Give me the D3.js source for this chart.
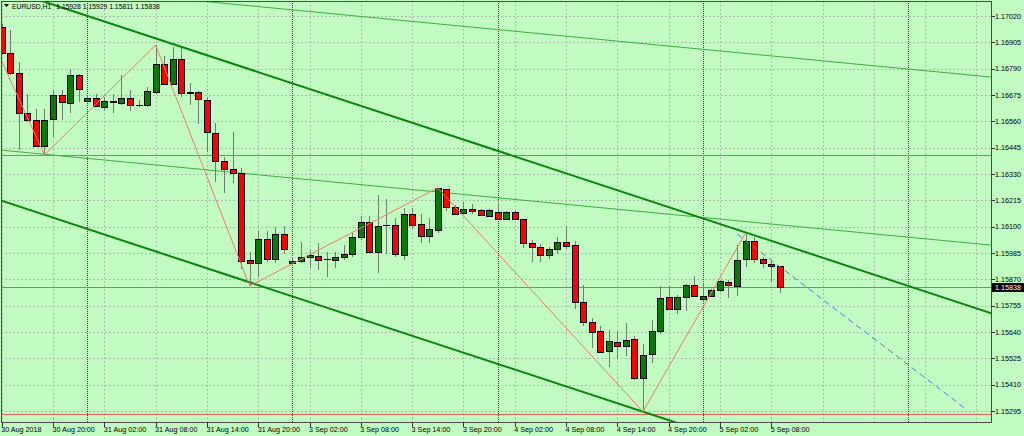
<!DOCTYPE html>
<html><head><meta charset="utf-8">
<script src="https://cdn.jsdelivr.net/npm/d3@7"></script>
<style>body{margin:0;background:#c1fbc1;} svg{display:block}</style>
</head><body>
<svg id="c" width="1024" height="436"></svg>
<script>
// ---------- data ----------
const symbol = "EURUSD,H1";
const headerValues = ["1.15928", "1.15929", "1.15811", "1.15838"];
const opens = [1.16972,1.16858,1.16771,1.16596,1.16566,1.16452,1.16570,1.16675,1.16640,1.16762,
1.16649,1.16662,1.16623,1.16649,1.16640,1.16662,1.16631,1.16631,1.16688,1.16810,
1.16723,1.16832,1.16686,1.16688,1.16653,1.16509,1.16387,1.16352,1.16334,1.15954,
1.15941,1.16046,1.15959,1.16068,1.15941,1.15950,1.15968,1.15972,1.15959,1.15954,
1.15968,1.15981,1.16055,1.16120,1.15989,1.16107,1.16107,1.15976,1.16155,1.16112,
1.16059,1.16085,1.16264,1.16186,1.16160,1.16177,1.16173,1.16148,1.16164,1.16133,
1.16164,1.16133,1.16029,1.16011,1.15976,1.16002,1.16033,1.16020,1.15771,1.15684,
1.15644,1.15557,1.15596,1.15579,1.15609,1.15439,1.15544,1.15644,1.15793,1.15740,
1.15793,1.15845,1.15785,1.15797,1.15820,1.15858,1.15842,1.15959,1.16037,1.15959,
1.15937,1.15928];
const highs = [1.16985,1.16959,1.16819,1.16679,1.16614,1.16614,1.16697,1.16697,1.16789,1.16767,
1.16675,1.16679,1.16666,1.16679,1.16762,1.16697,1.16653,1.16710,1.16893,1.16845,
1.16885,1.16880,1.16727,1.16692,1.16666,1.16553,1.16404,1.16513,1.16356,1.15989,
1.16081,1.16081,1.16099,1.16103,1.15968,1.16033,1.15998,1.16029,1.15989,1.15989,
1.16020,1.16072,1.16147,1.16147,1.16238,1.16221,1.16138,1.16182,1.16182,1.16155,
1.16138,1.16269,1.16266,1.16195,1.16208,1.16199,1.16177,1.16177,1.16203,1.16168,
1.16168,1.16135,1.16042,1.16024,1.16011,1.16055,1.16103,1.16037,1.15845,1.15701,
1.15666,1.15649,1.15644,1.15679,1.15623,1.15588,1.15692,1.15841,1.15841,1.15802,
1.15850,1.15885,1.15854,1.15828,1.15867,1.15867,1.16020,1.16072,1.16055,1.15968,
1.15954,1.15929];
const lows = [1.16850,1.16762,1.16435,1.16557,1.16448,1.16413,1.16492,1.16566,1.16596,1.16644,
1.16644,1.16625,1.16605,1.16596,1.16631,1.16605,1.16623,1.16623,1.16679,1.16719,
1.16719,1.16666,1.16631,1.16548,1.16426,1.16295,1.16247,1.16291,1.15915,1.15841,
1.15880,1.15946,1.15941,1.15981,1.15937,1.15941,1.15920,1.15911,1.15880,1.15920,
1.15954,1.15968,1.16042,1.15987,1.15898,1.15981,1.15968,1.15954,1.16090,1.16029,
1.16029,1.16072,1.16168,1.16151,1.16155,1.16155,1.16147,1.16142,1.16131,1.16131,
1.16129,1.16007,1.15946,1.15946,1.15959,1.15981,1.16002,1.15740,1.15666,1.15570,
1.15550,1.15487,1.15522,1.15535,1.15430,1.15292,1.15505,1.15631,1.15736,1.15719,
1.15732,1.15793,1.15771,1.15793,1.15815,1.15789,1.15797,1.15924,1.15941,1.15920,
1.15858,1.15811];
const closes = [1.16858,1.16771,1.16596,1.16566,1.16452,1.16566,1.16675,1.16644,1.16762,1.16701,
1.16662,1.16627,1.16649,1.16644,1.16662,1.16631,1.16629,1.16692,1.16810,1.16723,
1.16832,1.16684,1.16683,1.16658,1.16513,1.16387,1.16352,1.16334,1.15950,1.15941,
1.16046,1.15959,1.16068,1.16002,1.15950,1.15968,1.15976,1.15954,1.15957,1.15968,
1.15981,1.16055,1.16120,1.15989,1.16103,1.16105,1.15981,1.16155,1.16107,1.16059,
1.16090,1.16268,1.16186,1.16155,1.16177,1.16168,1.16151,1.16173,1.16133,1.16164,
1.16133,1.16029,1.16011,1.15976,1.16002,1.16033,1.16016,1.15771,1.15684,1.15640,
1.15553,1.15601,1.15579,1.15605,1.15439,1.15540,1.15644,1.15789,1.15740,1.15793,
1.15845,1.15797,1.15796,1.15823,1.15861,1.15845,1.15954,1.16037,1.15959,1.15941,
1.15928,1.15838];
const priceTicks = [1.17020,1.16905,1.16790,1.16675,1.16560,1.16445,1.16330,1.16215,
1.16100,1.15985,1.15870,1.15755,1.15640,1.15525,1.15410,1.15295];
const timeTickBars = [0,6,12,18,24,30,36,42,48,54,60,66,72,78,84,90];
const timeTickLabels = ["30 Aug 2018","30 Aug 20:00","31 Aug 02:00","31 Aug 08:00","31 Aug 14:00",
"31 Aug 20:00","3 Sep 02:00","3 Sep 08:00","3 Sep 14:00","3 Sep 20:00","4 Sep 02:00",
"4 Sep 08:00","4 Sep 14:00","4 Sep 20:00","5 Sep 02:00","5 Sep 08:00"];
const futureGridBars = [96,102,108,114];
const daySeparatorBars = [10,34,58,82,106];
const zigzagBars   = [-2, 5, 18, 29, 51, 75, 87];
const zigzagPrices = [1.16988,1.16413,1.16893,1.15841,1.16269,1.15292,1.16072];
const horizontalLevels = [1.16413, 1.15838, 1.15280];
const bidPrice = 1.15838;
const channelUpper = [[5, 1.17082],[87, 1.16075]];
const channelLower = [[0, 1.16213],[75, 1.15292]];
const thinUpper = [[25, 1.17079],[115, 1.16756]];
const thinLower = [[0, 1.16434],[115, 1.16022]];
const projection = [[86, 1.16068],[112.7, 1.15306]];

// ---------- layout ----------
const W = 1024, H = 436;
const plot = {l: 1, t: 1, r: 992, b: 423};
const x = d3.scaleLinear().domain([0, 90]).range([1.7, 771.2]);
const y = d3.scaleLinear().domain([1.15295, 1.17020]).range([411, 16]);
const font = "'Liberation Sans', Arial, sans-serif";

const svg = d3.select("#c");
svg.append("rect").attr("width", W).attr("height", H).attr("fill", "#c1fbc1");
svg.append("defs").append("clipPath").attr("id", "clip")
  .append("rect").attr("x", plot.l).attr("y", plot.t)
  .attr("width", plot.r - plot.l).attr("height", plot.b - plot.t);

const g = svg.append("g").attr("clip-path", "url(#clip)");

// grid
const gridColor = "#a9bfa9";
const gridBars = timeTickBars.concat(futureGridBars);
g.selectAll(".vg").data(gridBars).join("line")
  .attr("x1", d => Math.round(x(d)) + 0.5).attr("x2", d => Math.round(x(d)) + 0.5)
  .attr("y1", plot.t).attr("y2", plot.b)
  .attr("stroke", gridColor).attr("stroke-dasharray", "2,2");
g.selectAll(".hg").data(priceTicks).join("line")
  .attr("y1", d => Math.round(y(d)) + 0.5).attr("y2", d => Math.round(y(d)) + 0.5)
  .attr("x1", plot.l).attr("x2", plot.r)
  .attr("stroke", gridColor).attr("stroke-dasharray", "2,2");
g.selectAll(".ds").data(daySeparatorBars).join("line")
  .attr("x1", d => Math.round(x(d)) + 0.5).attr("x2", d => Math.round(x(d)) + 0.5)
  .attr("y1", plot.t).attr("y2", plot.b)
  .attr("stroke", "#404040").attr("stroke-dasharray", "1,1");

// horizontal levels
g.selectAll(".hl").data(horizontalLevels).join("line")
  .attr("y1", d => Math.round(y(d)) + 0.5).attr("y2", d => Math.round(y(d)) + 0.5)
  .attr("x1", plot.l).attr("x2", plot.r)
  .attr("stroke", "#e06060").attr("stroke-width", 1);

// extended lines
function extended(pts, b0, b1) {
  const [[i1, p1], [i2, p2]] = pts;
  const s = (p2 - p1) / (i2 - i1);
  return [[x(b0), y(p1 + (b0 - i1) * s)], [x(b1), y(p1 + (b1 - i1) * s)]];
}
const lineGen = d3.line();
[thinUpper, thinLower].forEach(pts => {
  g.append("path").attr("d", lineGen(extended(pts, -5, 125)))
    .attr("fill", "none").attr("stroke", "#3fae3f").attr("stroke-width", 1);
});
[channelUpper, channelLower].forEach(pts => {
  g.append("path").attr("d", lineGen(extended(pts, -10, 125)))
    .attr("fill", "none").attr("stroke", "#0a850a").attr("stroke-width", 2);
});

// candles
const n = opens.length;
const idx = d3.range(n);
const cg = g.append("g").attr("shape-rendering", "crispEdges");
cg.selectAll(".wick").data(idx).join("line")
  .attr("x1", i => Math.round(x(i)) + 0.5).attr("x2", i => Math.round(x(i)) + 0.5)
  .attr("y1", i => y(highs[i])).attr("y2", i => y(lows[i]))
  .attr("stroke", "#6f7f6f").attr("stroke-width", 1);
cg.selectAll(".body").data(idx).join("rect")
  .attr("x", i => Math.round(x(i)) - 2.5)
  .attr("width", 6)
  .attr("y", i => Math.round(y(Math.max(opens[i], closes[i]))) + 0.5)
  .attr("height", i => Math.max(0.01, Math.round(Math.abs(y(opens[i]) - y(closes[i])))))
  .attr("fill", i => closes[i] >= opens[i] ? "#077a07" : "#ff0000")
  .attr("stroke", "#000").attr("stroke-width", 1);

// zigzag
g.append("path")
  .attr("d", lineGen(zigzagBars.map((b, k) => [x(b), y(zigzagPrices[k])])))
  .attr("fill", "none").attr("stroke", "#f07a6a").attr("stroke-width", 1);

// projection dashed
g.append("path")
  .attr("d", lineGen(projection.map(([b, p]) => [x(b), y(p)])))
  .attr("fill", "none").attr("stroke", "#4a7fe6").attr("stroke-width", 1)
  .attr("stroke-dasharray", "6,4");

// frame
svg.append("rect").attr("x", plot.l + 0.5).attr("y", plot.t + 0.5)
  .attr("width", plot.r - plot.l - 1).attr("height", plot.b - plot.t - 1)
  .attr("fill", "none").attr("stroke", "#4a4a4a");

// right price axis
const ax = svg.append("g").attr("font-family", font).attr("font-size", 7.2).attr("fill", "#000");
ax.selectAll(".pt").data(priceTicks).join("line")
  .attr("x1", plot.r).attr("x2", plot.r + 3)
  .attr("y1", d => Math.round(y(d)) + 0.5).attr("y2", d => Math.round(y(d)) + 0.5)
  .attr("stroke", "#333");
ax.selectAll(".pl").data(priceTicks).join("text")
  .attr("x", plot.r + 3).attr("y", d => y(d) + 2.6)
  .text(d => d.toFixed(5));

// bid box
const by = Math.round(y(bidPrice));
svg.append("rect").attr("x", plot.r).attr("y", by - 4).attr("width", 32).attr("height", 9).attr("fill", "#000");
svg.append("text").attr("x", plot.r + 3).attr("y", by + 3).attr("font-family", font)
  .attr("font-size", 7.2).attr("fill", "#fff").text(bidPrice.toFixed(5));

// bottom time axis
ax.selectAll(".tt").data(timeTickBars).join("line")
  .attr("x1", d => Math.round(x(d)) + 0.5).attr("x2", d => Math.round(x(d)) + 0.5)
  .attr("y1", plot.b).attr("y2", plot.b + 4)
  .attr("stroke", "#333");
ax.selectAll(".tl").data(timeTickBars).join("text")
  .attr("x", d => Math.max(1, x(d) - 0.5)).attr("y", 432)
  .text((d, k) => timeTickLabels[k]);

// header
svg.append("path").attr("d", "M4,4 L9,4 L6.5,7 Z").attr("fill", "#000");
const symText = svg.append("text").attr("x", 12).attr("y", 9).attr("font-family", font).attr("font-size", 6.8)
  .attr("fill", "#000").text(symbol);
const symEnd = 12 + symText.node().getComputedTextLength();
svg.append("text").attr("x", Math.max(50, symEnd + 5)).attr("y", 9).attr("font-family", font).attr("font-size", 6.8)
  .attr("fill", "#000").text(headerValues.join(" "));
</script>
</body></html>
